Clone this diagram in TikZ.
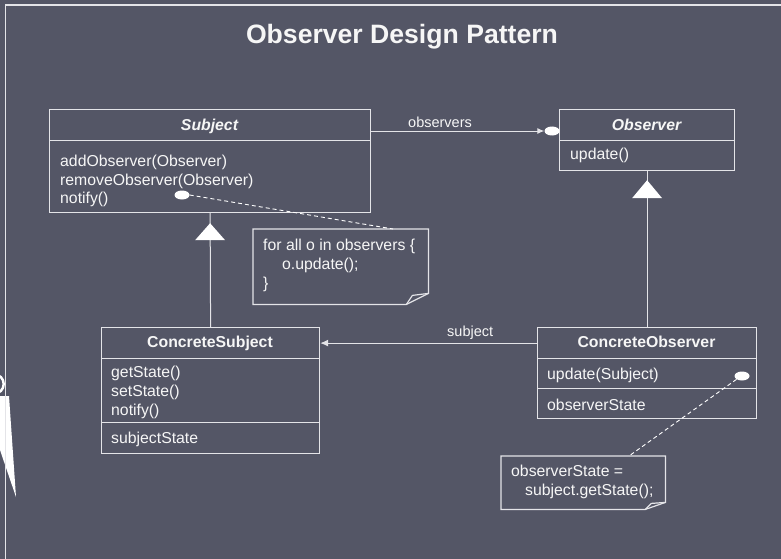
\documentclass[tikz,border=0pt]{standalone}
\usepackage{fontspec}
\setmainfont{Liberation Sans}
\usetikzlibrary{shapes.geometric,arrows.meta}
\definecolor{bg}{RGB}{84,86,102}
\definecolor{linec}{RGB}{228,228,232}
\definecolor{txtc}{RGB}{246,246,246}
\begin{document}
\begin{tikzpicture}[x=1pt,y=-1pt,
  box/.style={draw=linec, line width=1.2pt, inner sep=0, anchor=north west},
  txt/.style={text=txtc, inner sep=0, anchor=base west, font=\fontsize{15.8}{18}\selectfont},
  hdr/.style={text=txtc, inner sep=0, anchor=base, font=\fontsize{15.8}{18}\selectfont\bfseries},
  lbl/.style={text=txtc, inner sep=0, anchor=base west, font=\fontsize{14.5}{17}\selectfont},
  dot/.style={ellipse, fill=white, draw=none, minimum width=15pt, minimum height=9pt, inner sep=0},
  conn/.style={draw=linec, line width=1pt},
  dashline/.style={draw=white, line width=0.9pt, dash pattern=on 4pt off 3pt},
  notebox/.style={inner sep=0, anchor=north west},
  noteline/.style={draw=linec, line width=1.2pt, line join=miter}
]
\fill[bg] (0,0) rectangle (781,559);
\useasboundingbox (0,0) rectangle (781,559);

% left decoration
\fill[white, even odd rule] (-6,384) circle (11pt) (-6,384) circle (8.5pt);
\fill[white] (0,396) -- (9,396) -- (16,497) -- (0,450) -- cycle;

% frame
\draw[linec, line width=1.5pt] (781,5) -- (5.5,5) -- (5.5,559);

% title
\node[text=txtc, font=\fontsize{26.6}{30}\selectfont\bfseries, inner sep=0, anchor=base] (title) at (402,44) {Observer Design Pattern};

% Subject
\node[box, minimum width=321pt, minimum height=31pt] (subjH) at (49,109) {};
\node[box, minimum width=321pt, minimum height=72pt] (subjM) at (49,140) {};
\node[hdr] (subjT) at (209.5,131) {\itshape Subject};
\node[txt] (subjM1) at (60,166.5) {addObserver(Observer)};
\node[txt] (subjM2) at (60,185) {removeObserver(Observer)};
\node[txt] (subjM3) at (60,203) {notify()};
\node[dot] (subjDot) at (182,195) {};

% Observer
\node[box, minimum width=175pt, minimum height=31pt] (obsH) at (559,109) {};
\node[box, minimum width=175pt, minimum height=30pt] (obsM) at (559,140) {};
\node[hdr] (obsT) at (646.5,131) {\itshape Observer};
\node[txt] (obsM1) at (570,159.5) {update()};
\node[dot] (obsDot) at (552,131) {};

% ConcreteSubject
\node[box, minimum width=218pt, minimum height=31pt] (csH) at (101,327) {};
\node[box, minimum width=218pt, minimum height=64pt] (csM) at (101,358) {};
\node[box, minimum width=218pt, minimum height=31pt] (csA) at (101,422) {};
\node[hdr] (csT) at (210,347.5) {ConcreteSubject};
\node[txt] (csM1) at (111,377) {getState()};
\node[txt] (csM2) at (111,396) {setState()};
\node[txt] (csM3) at (111,415.5) {notify()};
\node[txt] (csA1) at (111,443) {subjectState};

% ConcreteObserver
\node[box, minimum width=219pt, minimum height=31pt] (coH) at (537,327) {};
\node[box, minimum width=219pt, minimum height=30pt] (coM) at (537,358) {};
\node[box, minimum width=219pt, minimum height=30pt] (coA) at (537,388) {};
\node[hdr] (coT) at (646.5,347.5) {ConcreteObserver};
\node[txt] (coM1) at (547,379) {update(Subject)};
\node[txt] (coA1) at (547,410) {observerState};
\node[dot] (coDot) at (742,376) {};

% associations
\draw[conn, -{Latex[length=7pt,width=6pt]}] (obsDot -| subjH.east) -- (obsDot.west);
\node[lbl] (obsLbl) at (408,128) {observers};
\draw[conn, -{Latex[length=8pt,width=7pt]}] (coH.west) -- (csH.east);
\node[lbl] (subjLbl) at (447,336.5) {subject};

% generalisations
\draw[conn] (csH.north) -- (subjM.south);
\fill[white] ([yshift=-10pt]subjM.south) -- ++(-15,17) -- ++(30,0) -- cycle;
\draw[conn] (coH.north) -- (obsM.south);
\fill[white] ([yshift=-9pt]obsM.south) -- ++(-15,18) -- ++(30,0) -- cycle;

% note 1
\node[notebox, minimum width=175pt, minimum height=75pt] (note1) at (253,229) {};
\draw[noteline] (note1.north west) -- (note1.north east) -- ([yshift=11pt]note1.south east)
  -- ([xshift=-22pt]note1.south east) -- (note1.south west) -- cycle;
\draw[noteline] ([xshift=-22pt]note1.south east) -- ([xshift=-16pt,yshift=9pt]note1.south east) -- ([yshift=11pt]note1.south east);
\node[txt] (n1l1) at (263,250.5) {for all o in observers \{};
\node[txt] (n1l2) at (282,269.5) {o.update();};
\node[txt] (n1l3) at (263,288.5) {\}};
\coordinate (n1a) at (393,229);
\draw[dashline] (subjDot.east) -- (n1a);

% note 2
\node[notebox, minimum width=164pt, minimum height=53pt] (note2) at (501,456) {};
\draw[noteline] (note2.north west) -- (note2.north east) -- ([yshift=7pt]note2.south east)
  -- ([xshift=-20pt]note2.south east) -- (note2.south west) -- cycle;
\draw[noteline] ([xshift=-20pt]note2.south east) -- ([xshift=-14pt,yshift=6pt]note2.south east) -- ([yshift=7pt]note2.south east);
\node[txt] (n2l1) at (511,476.5) {observerState =};
\node[txt] (n2l2) at (525,495.5) {subject.getState();};
\coordinate (n2a) at (629,456);
\draw[dashline] (coDot.south west) -- (n2a);
\end{tikzpicture}
\end{document}
